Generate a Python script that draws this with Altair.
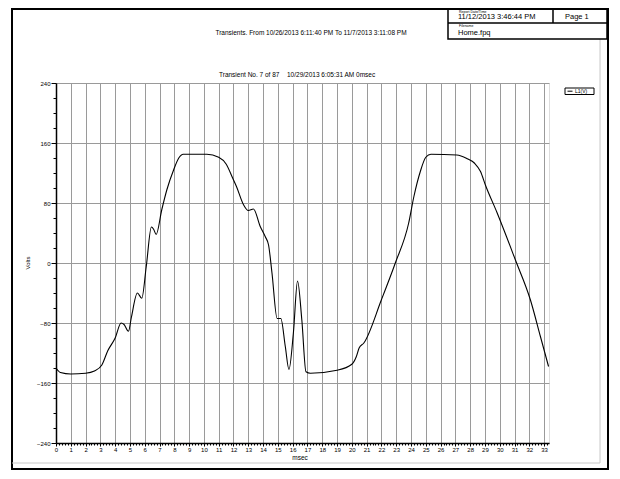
import altair as alt
import pandas as pd

# waveform (msec, volts)
t_ms = [0.0, 0.3, 1.0, 2.0, 2.6, 3.1, 3.5, 4.0, 4.4, 4.6, 4.9, 5.1, 5.5, 5.8, 6.1, 6.45, 6.6, 6.77,
        7.15, 7.5, 7.95, 8.3, 8.6, 10.2, 11.0, 11.5, 11.95, 12.2, 12.67, 13.0, 13.35, 13.8, 14.15, 14.37, 14.6,
        14.95, 15.2, 15.5, 15.75, 16.05, 16.33, 16.62, 16.9, 17.2, 19.0, 20.0, 20.3, 20.5, 20.8, 22.0,
        22.94, 23.84, 24.2, 24.63, 25.0, 25.35, 27.1, 27.8, 28.3, 28.7, 29.03, 29.82, 31.06, 32.07, 32.75, 33.3]
volts = [-140, -146, -148, -147, -144, -136, -117, -100, -80, -82, -91, -72, -40, -47, -5, 48, 45, 38,
         71, 98, 124, 140, 145, 145, 141, 132, 113, 102, 78, 70, 72, 49, 35, 24, -13,
         -74, -74, -111, -142, -93, -24, -76, -145, -147, -143, -135, -125, -113, -107, -49,
         0, 53, 89, 122, 141, 145, 144, 139, 133, 122, 104, 67, 4, -49, -98, -138]

y_ticks = [-240, -220, -200, -180, -160, -140, -120, -100, -80, -60, -40, -20, 0,
           20, 40, 60, 80, 100, 120, 140, 160, 180, 200, 220, 240]
x_ticks = [round(i * 0.2, 1) for i in range(0, 167)]

title_text = "Transients. From 10/26/2013 6:11:40 PM To 11/7/2013 3:11:08 PM"
sub_left = "Transient No. 7 of 87"
sub_right = "10/29/2013 6:05:31 AM 0msec"
series_name = "L1(V)"

df = pd.DataFrame({"t": t_ms, "v": volts})
one = pd.DataFrame({"a": [0]})
FONT = "Liberation Sans"

major_x = "abs(datum.value - round(datum.value)) < 0.01"
major_y = "datum.value % 80 === 0"

xs = alt.Scale(domain=[0, 33.33], nice=False, zero=False)
ys = alt.Scale(domain=[-240, 240], nice=False)

line = alt.Chart(df).mark_line(color="black", strokeWidth=1.1, interpolate="monotone").encode(
    x=alt.X("t:Q", scale=xs, axis=alt.Axis(
        values=x_ticks, title=None,
        labelExpr=f"{major_x} ? format(datum.value, 'd') : ''",
        labelFontSize=6, labelFont=FONT, labelColor="black", labelPadding=0,
        labelOverlap=False, labelFlush=False,
        tickColor="black",
        tickSize={"condition": {"test": major_x, "value": 3}, "value": 2},
        domainColor="black", domainWidth=1.5,
        grid=True, gridColor="#9a9a9a", gridWidth=1,
        gridOpacity={"condition": {"test": major_x, "value": 1}, "value": 0},
    )),
    y=alt.Y("v:Q", scale=ys, axis=alt.Axis(
        values=y_ticks, title=None, labelExpr=f"{major_y} ? datum.label : ''",
        labelFontSize=6, labelFont=FONT, labelColor="black", labelPadding=1,
        labelOverlap=False, labelFlush=False,
        tickColor="black",
        tickSize={"condition": {"test": major_y, "value": 5}, "value": 3},
        domainColor="black", domainWidth=1.5,
        grid=True, gridColor="#9a9a9a", gridWidth=1,
        gridOpacity={"condition": {"test": major_y, "value": 1}, "value": 0},
    )),
)

def txt(s, x, y, size, align="left", angle=0):
    kw = dict(font=FONT, fontSize=size, align=align, baseline="middle", color="black")
    if angle:
        kw["angle"] = angle
    return alt.Chart(one).mark_text(**kw).encode(
        x=alt.value(x), y=alt.value(y), text=alt.value(s))

def rule(x1, y1, x2, y2, color="black", w=1):
    return alt.Chart(one).mark_rule(color=color, strokeWidth=w).encode(
        x=alt.value(x1), y=alt.value(y1), x2=alt.value(x2), y2=alt.value(y2))

def box(x1, y1, x2, y2, w=1.5, color="black"):
    return alt.Chart(one).mark_rect(filled=False, stroke=color, strokeWidth=w).encode(
        x=alt.value(x1), y=alt.value(y1), x2=alt.value(x2), y2=alt.value(y2))

# plot origin at page (56, 83)
OX, OY = 56, 83
P = lambda x, y: (x - OX, y - OY)

layers = [line]
# outer page frame
layers.append(box(*P(12, 9), *P(608, 469), w=2))
layers.append(rule(*P(12, 463), *P(600, 463), color="#c8c8c8", w=1))
layers.append(rule(*P(600, 39), *P(600, 463), color="#c8c8c8", w=1))
# header box
layers.append(box(*P(448, 9), *P(607, 39), w=1.5))
layers.append(rule(*P(448, 23), *P(607, 23), w=1.5))
layers.append(rule(*P(553, 9), *P(553, 23), w=1.5))
layers.append(txt("Report Date/Time", *P(459, 11.5), 3.5))
layers.append(txt("11/12/2013 3:46:44 PM", *P(458, 17), 7.5))
layers.append(txt("Page 1", *P(565, 16.5), 7.5))
layers.append(txt("Filename", *P(459, 26), 3.5))
layers.append(txt("Home.fpq", *P(458, 33), 7.5))
# titles
layers.append(txt(title_text, *P(311, 33), 6.5, align="center"))
layers.append(txt(sub_left, *P(219, 75), 6.5))
layers.append(txt(sub_right, *P(287, 75), 6.5))
# axis titles
layers.append(txt("Volts", *P(28, 263), 6, align="center", angle=270))
layers.append(txt("msec", *P(300, 458), 6.5, align="center"))
# legend
layers.append(box(*P(565, 88), *P(594, 94.5), w=1))
layers.append(rule(*P(567.5, 91.2), *P(572.5, 91.2), w=1))
layers.append(txt(series_name, *P(575, 91.3), 5))

chart = alt.layer(*layers).properties(
    width=493, height=360,
    padding={"left": 48, "top": 75, "right": 62, "bottom": 28},
    autosize=alt.AutoSizeParams(type="none"),
).configure_view(stroke="#777777", strokeWidth=1).configure(background="white")

chart.save("out.html", embed_options={"renderer": "svg", "actions": False})
